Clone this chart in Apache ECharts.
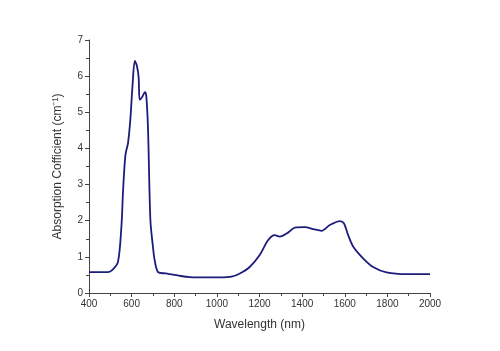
<!DOCTYPE html>
<html><head><meta charset="utf-8">
<script src="https://cdn.jsdelivr.net/npm/echarts@6/dist/echarts.min.js"></script>
<style>html,body{margin:0;padding:0;background:#fff}#c{width:500px;height:351px}</style>
</head><body><div id="c"></div>
<script>
var wavelength = [400,450,489,510,536,552,560,571,583,594,604,615,625,633,638,651,662,669,677,688,700,708,724,760,794,830,873,950,1014,1069,1108,1154,1201,1240,1272,1295,1334,1366,1413,1452,1491,1530,1577,1596,1616,1640,1686,1733,1796,1890,2000];
var absorption = [0.58,0.58,0.58,0.64,0.86,1.83,2.85,3.82,4.15,4.8,5.72,6.42,6.28,5.96,5.35,5.44,5.56,5.44,4.52,2.02,1.28,0.91,0.58,0.54,0.51,0.47,0.44,0.43,0.43,0.45,0.54,0.72,1.05,1.46,1.6,1.56,1.67,1.81,1.82,1.77,1.72,1.88,1.99,1.93,1.6,1.28,0.96,0.72,0.57,0.52,0.52];
var xTitle = 'Wavelength (nm)';
var yTitle = 'Absorption Cofficient (cm\u207B\u00B9)';
var pts = wavelength.map(function(w,i){return [w, absorption[i]];});
var chart = echarts.init(document.getElementById('c'));
var axisCol = '#444';
chart.setOption({
  animation:false,
  grid:{left:89,right:70,top:40,bottom:58},
  xAxis:{type:'value',min:400,max:2000,interval:200,
    name:xTitle,nameLocation:'middle',nameGap:26,
    nameTextStyle:{fontFamily:'Liberation Sans',fontSize:12,color:'#333'},
    axisLine:{show:true,lineStyle:{color:axisCol,width:1}},
    axisTick:{show:true,length:4,lineStyle:{color:axisCol}},
    minorTick:{show:true,splitNumber:2,length:3,lineStyle:{color:axisCol}},
    axisLabel:{fontFamily:'Liberation Sans',fontSize:10,color:'#333',margin:6,
      formatter:function(v){return String(v);}},
    splitLine:{show:false}},
  yAxis:{type:'value',min:0,max:7,interval:1,
    name:yTitle,nameLocation:'middle',nameGap:25,nameRotate:90,
    nameTextStyle:{fontFamily:'Liberation Sans',fontSize:12,color:'#333'},
    axisLine:{show:true,lineStyle:{color:axisCol,width:1}},
    axisTick:{show:true,length:4,lineStyle:{color:axisCol}},
    minorTick:{show:true,splitNumber:2,length:3,lineStyle:{color:axisCol}},
    axisLabel:{fontFamily:'Liberation Sans',fontSize:10,color:'#333',margin:6},
    splitLine:{show:false}},
  series:[{type:'line',data:pts,smooth:0.3,showSymbol:false,
    lineStyle:{color:'#1c1c7a',width:1.8}}]
});
</script></body></html>
